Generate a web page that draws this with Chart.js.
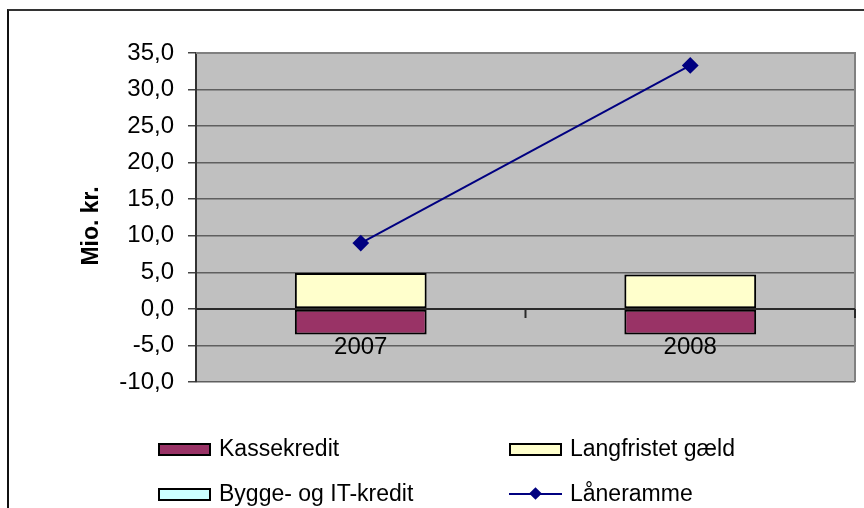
<!DOCTYPE html>
<html>
<head>
<meta charset="utf-8">
<script src="https://cdn.jsdelivr.net/npm/chart.js@4.4.0/dist/chart.umd.min.js"></script>
<style>
    html, body { margin: 0; padding: 0; background: #fff; overflow: hidden; }
    #wrap { position: relative; width: 864px; height: 508px; font-family: "Liberation Sans", Arial, sans-serif; }
    #frame { position: absolute; left: 7px; top: 9px; width: 900px; height: 600px;
             border-left: 2px solid #111; border-top: 2px solid #333; }
    #chart { position: absolute; left: 0; top: 0; }
    .lg { position: absolute; font-size: 23px; color: #000; line-height: 26px; white-space: nowrap; }
    .box { position: absolute; width: 53px; height: 13px; border: 2px solid #000; box-sizing: border-box; }
    .ln { position: absolute; width: 53px; height: 2px; background: #000080; }
    .dia { position: absolute; width: 9px; height: 9px; background: #000080; transform: rotate(45deg); }
</style>
</head>
<body>
<div id="wrap">
    <div id="frame"></div>
    <canvas id="chart" width="864" height="508"></canvas>
    <div id="legend"></div>
</div>
<script>
// data
const years = ['2007', '2008'];
const kassekredit = [-3.5, -3.5];
const langfristetGaeld = [4.9, 4.7];
const byggeItKredit = [0, 0];
const laaneramme = [9.0, 33.3];
const yTicks = [-10, -5, 0, 5, 10, 15, 20, 25, 30, 35];
const yTitle = 'Mio. kr.';

const FONT = '"Liberation Sans", Arial, sans-serif';

// grey plot area, border, category axis on zero line, axis title
const plotAreaPlugin = {
    id: 'plotArea',
    beforeDraw(chart) {
        const { ctx, chartArea: a } = chart;
        ctx.save();
        ctx.fillStyle = '#c0c0c0';
        ctx.fillRect(a.left, a.top, a.right - a.left, a.bottom - a.top);
        ctx.restore();
    },
    afterDatasetsDraw(chart) {
        const { ctx, chartArea: a, scales } = chart;
        ctx.save();
        ctx.strokeStyle = '#808080';
        ctx.lineWidth = 2;
        ctx.beginPath();
        ctx.moveTo(a.left, a.top);
        ctx.lineTo(a.right, a.top);
        ctx.lineTo(a.right, a.bottom);
        ctx.stroke();

        // category axis sits on the zero line
        const y0 = scales.y.getPixelForValue(0);
        const x = scales.x;
        ctx.strokeStyle = '#2a2a2a';
        ctx.lineWidth = 2;
        ctx.beginPath();
        ctx.moveTo(a.left, y0);
        ctx.lineTo(a.right, y0);
        for (let i = 0; i < years.length; i++) {
            const right = i < years.length - 1
                ? (x.getPixelForValue(i) + x.getPixelForValue(i + 1)) / 2
                : a.right;
            ctx.moveTo(right, y0);
            ctx.lineTo(right, y0 + 9);
        }
        ctx.stroke();

        ctx.fillStyle = '#000';
        ctx.font = '24px ' + FONT;
        ctx.textAlign = 'center';
        ctx.textBaseline = 'middle';
        years.forEach((yr, i) => {
            ctx.fillText(yr, x.getPixelForValue(i), y0 + 38);
        });

        // rotated y title
        ctx.translate(92, 226);
        ctx.rotate(-Math.PI / 2);
        ctx.font = 'bold 23px ' + FONT;
        ctx.fillText(yTitle, 0, 0);
        ctx.restore();
    }
};

const ctx = document.getElementById('chart').getContext('2d');
new Chart(ctx, {
    data: {
        labels: years,
        datasets: [
            {
                type: 'line',
                label: 'Låneramme',
                data: laaneramme,
                stack: 'line',
                borderColor: '#000080',
                backgroundColor: '#000080',
                borderWidth: 2,
                pointStyle: 'rectRot',
                pointRadius: 7,
                pointHoverRadius: 7,
                order: 0
            },
            {
                type: 'bar',
                label: 'Kassekredit',
                data: kassekredit,
                stack: 'bars',
                backgroundColor: '#993366',
                borderColor: '#000',
                borderWidth: 2,
                borderSkipped: false,
                order: 1
            },
            {
                type: 'bar',
                label: 'Langfristet gæld',
                data: langfristetGaeld,
                stack: 'bars',
                backgroundColor: '#ffffcc',
                borderColor: '#000',
                borderWidth: 2,
                borderSkipped: false,
                order: 1
            },
            {
                type: 'bar',
                label: 'Bygge- og IT-kredit',
                data: byggeItKredit,
                stack: 'bars',
                backgroundColor: '#ccffff',
                borderColor: '#000',
                borderWidth: 0,
                order: 1
            }
        ]
    },
    options: {
        responsive: false,
        animation: false,
        events: [],
        categoryPercentage: 1,
        barPercentage: 0.4,
        layout: { padding: { left: 0, top: 53, right: 5, bottom: 126 } },
        plugins: {
            legend: { display: false },
            tooltip: { enabled: false }
        },
        scales: {
            x: {
                type: 'category',
                stacked: true,
                display: false
            },
            y: {
                stacked: true,
                min: -10,
                max: 35,
                afterFit(scale) { scale.width = 196; },
                afterBuildTicks(scale) { scale.ticks = yTicks.map(v => ({ value: v })); },
                border: { display: true, color: '#333', width: 2 },
                grid: { color: '#5f5f5f', lineWidth: 1.5, tickLength: 8, tickColor: '#444' },
                ticks: {
                    padding: 14,
                    color: '#000',
                    font: { family: FONT, size: 24 },
                    callback: v => v.toFixed(1).replace('.', ',')
                }
            }
        }
    },
    plugins: [plotAreaPlugin]
});

// legend laid out in two columns like the original
const legendItems = [
    { label: 'Kassekredit', kind: 'box', color: '#993366', x: 158, y: 449 },
    { label: 'Langfristet gæld', kind: 'box', color: '#ffffcc', x: 509, y: 449 },
    { label: 'Bygge- og IT-kredit', kind: 'box', color: '#ccffff', x: 158, y: 494 },
    { label: 'Låneramme', kind: 'line', color: '#000080', x: 509, y: 494 }
];
const legendEl = document.getElementById('legend');
legendItems.forEach(item => {
    if (item.kind === 'box') {
        const b = document.createElement('div');
        b.className = 'box';
        b.style.left = item.x + 'px';
        b.style.top = (item.y - 6) + 'px';
        b.style.background = item.color;
        legendEl.appendChild(b);
    } else {
        const l = document.createElement('div');
        l.className = 'ln';
        l.style.left = item.x + 'px';
        l.style.top = (item.y - 1) + 'px';
        legendEl.appendChild(l);
        const d = document.createElement('div');
        d.className = 'dia';
        d.style.left = (item.x + 22) + 'px';
        d.style.top = (item.y - 5) + 'px';
        legendEl.appendChild(d);
    }
    const t = document.createElement('div');
    t.className = 'lg';
    t.textContent = item.label;
    t.style.left = (item.x + 61) + 'px';
    t.style.top = (item.y - 14) + 'px';
    legendEl.appendChild(t);
});
</script>
</body>
</html>
